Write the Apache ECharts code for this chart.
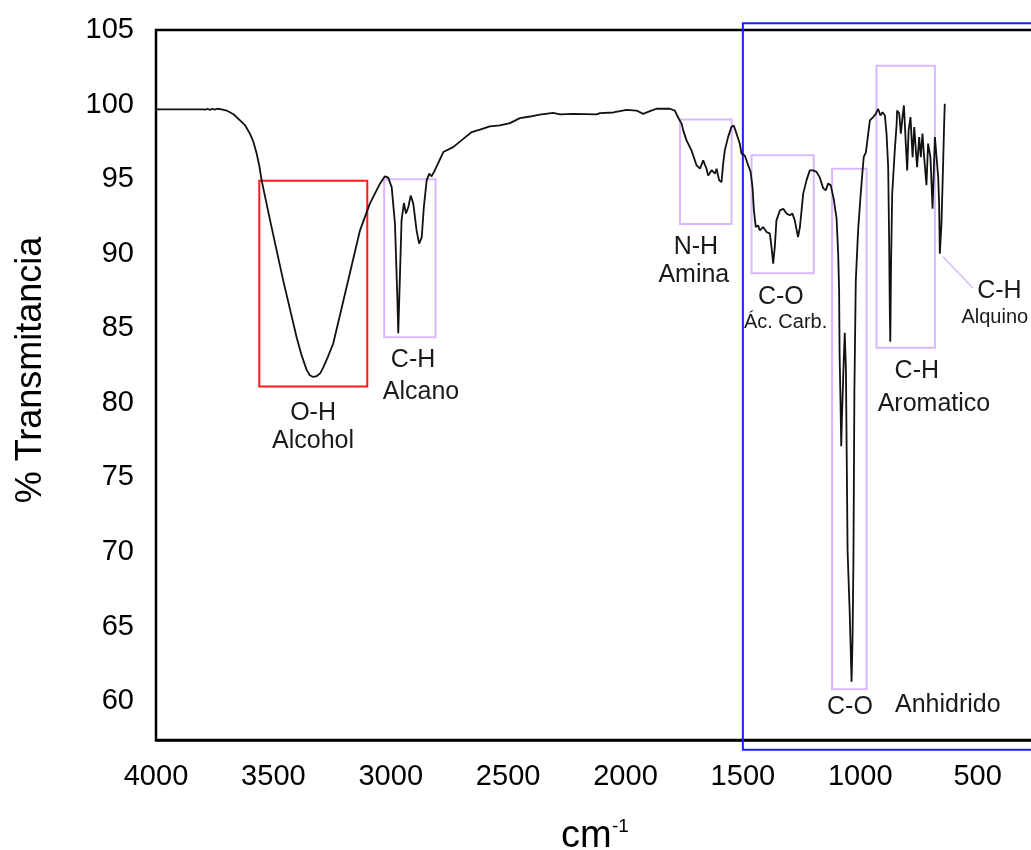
<!DOCTYPE html>
<html>
<head>
<meta charset="utf-8">
<script src="https://cdn.jsdelivr.net/npm/echarts@6/dist/echarts.min.js"></script>
<style>
html,body{margin:0;padding:0;background:#fff;}
#chart{width:1031px;height:850px;}
</style>
</head>
<body>
<div id="chart"></div>
<script>
// wavenumber (cm-1) and % transmittance
var wavenumber = [4000,3900,3800,3790,3780,3770,3760,3750,3740,3720,3699,3670,3642,3620,3600,3585,3571,3560,3550,3514,3458,3401,3380,3358,3345,3330,3315,3300,3287,3270,3245,3188,3131,3089,3046,3025,3011,2996,2982,2972,2968,2961,2954,2944,2935,2925,2915,2904,2890,2879,2868,2859,2847,2836,2826,2812,2776,2734,2691,2655,2620,2578,2535,2492,2450,2407,2365,2308,2279,2223,2123,2109,2052,1995,1953,1925,1917,1896,1868,1811,1790,1773,1761,1754,1740,1719,1697,1683,1669,1655,1648,1633,1619,1612,1601,1591,1584,1577,1563,1549,1539,1527,1513,1506,1492,1477,1467,1459,1453,1445,1435,1428,1414,1399,1385,1378,1371,1364,1357,1342,1328,1314,1300,1289,1279,1265,1257,1250,1243,1229,1215,1200,1186,1172,1158,1147,1137,1126,1118,1112,1108,1101,1094,1090,1088,1084,1081,1078,1070,1066,1061,1054,1045,1037,1033,1029,1025,1019,1009,999,990,985,976,966,959,945,934,924,914,905,895,888,881,877,874,872,869,864,853,845,843,834,827,820,814,806,800,794,786,777,770,763,758,749,742,735,729,718,711,701,692,682,675,668,664,661,654,647,643,640];
var transmittance = [99.68,99.68,99.68,99.66,99.72,99.64,99.72,99.66,99.72,99.68,99.6,99.35,98.94,98.6,98.05,97.5,96.7,95.9,94.92,92.24,88.2,84.4,83.2,82.2,81.85,81.74,81.8,82.0,82.4,83.0,83.98,87.77,91.57,93.36,94.7,95.19,95.1,94.47,92.0,87.1,84.67,88.44,92.24,93.4,92.7,93.13,93.9,93.36,91.57,90.68,91.1,93.13,94.92,95.37,95.19,95.6,96.82,97.15,97.7,98.16,98.32,98.54,98.6,98.76,99.09,99.2,99.32,99.45,99.34,99.38,99.34,99.43,99.47,99.65,99.6,99.38,99.32,99.56,99.72,99.72,99.6,99.05,98.72,98.27,97.6,96.93,95.92,95.7,96.26,95.7,95.25,95.6,95.37,95.7,94.92,94.8,96.04,96.93,97.82,98.49,98.6,98.05,97.38,96.71,96.59,95.92,95.48,94.47,92.91,91.79,91.9,91.57,91.79,91.46,91.35,90.45,89.34,90.45,92.24,92.91,93.02,92.69,92.58,92.69,92.24,91.12,91.79,92.91,94.03,94.92,95.59,95.59,95.48,95.1,94.4,94.25,94.7,94.6,94.47,93.6,93.1,92.4,90.0,87.5,83.3,80,77.1,79,83,84.7,82.2,70.1,66,61.3,64,69.5,80.7,88.2,91.6,93.8,95.6,96.5,96.8,98.05,98.94,99.16,99.38,99.72,99.27,99.49,99.27,98.05,95.8,91,86,84.1,89,94,96.9,98.7,99.6,99.4,98.05,99.16,99.94,97.38,95.59,98.27,99.16,96.48,98.49,98.6,95.81,97.82,96.48,98.05,96.71,94.59,97.38,96.48,93.02,97.82,97.82,95.14,93.36,90.0,92.02,96.04,98.49,100.05];

var xTicks = [4000,3500,3000,2500,2000,1500,1000,500];
var yTicks = [60,65,70,75,80,85,90,95,100,105];

// highlighted bands: [from wn, from %T, to wn, to %T]
var bandNames = ['O-H','C-H Alcano','N-H','C-O Ac','C-O Anh','C-H Arom','Huella'];
var bands = [
  [3560, 81.1, 3100, 94.9],
  [3028, 84.4, 2809, 95.0],
  [1768, 92.0, 1548, 99.0],
  [1463, 88.7, 1198, 96.6],
  [1120, 60.8, 973, 95.7],
  [931, 83.7, 682, 102.6],
  [1500, 56.75, -300, 105.45]
];
var bandColors = ['#ff1a1a','#d9b8ff','#d9b8ff','#d9b8ff','#d9b8ff','#d9b8ff','#1f1fff'];

// annotation texts anchored at [wn, %T]
var notes = ['O-H','Alcohol','C-H','Alcano','N-H','Amina','C-O','Ác. Carb.','C-O','Anhidrido','C-H','Aromatico','C-H','Alquino'];
var notePos = [[3331,79.3],[3331,77.45],[2905,82.9],[2871,80.75],[1700,90.45],[1709,88.55],[1338,87.1],[1318,85.4],[1044,59.6],[627,59.75],[759,82.1],[686,79.95],[407,87.5],[427,85.7]];
var noteSize = [25,25,25,25,25,25,25,20,25,25,25,25,25,20];
var leader = [[648, 89.8], [520, 87.7]];

var font = '"Liberation Sans", Arial, sans-serif';

var chart = echarts.init(document.getElementById('chart'));

var option = {
  animation: false,
  backgroundColor: '#fff',
  grid: {
    left: 156, top: 30, right: -64, bottom: 110,
    show: true, borderColor: '#000', borderWidth: 2.5,
    outerBoundsMode: 'none'
  },
  xAxis: {
    type: 'value', inverse: true, min: 0, max: 4000, interval: 500,
    axisLine: { show: true, lineStyle: { color: '#000', width: 2.5 } },
    axisTick: { show: false },
    splitLine: { show: false },
    axisLabel: {
      color: '#000', fontSize: 29, fontFamily: font, margin: 22,
      formatter: function (v) { return xTicks.indexOf(v) >= 0 ? String(v) : ''; }
    }
  },
  yAxis: {
    type: 'value', min: 57.4, max: 105, splitNumber: 10,
    axisLine: { show: true, lineStyle: { color: '#000', width: 2.5 } },
    axisTick: { show: false },
    splitLine: { show: false },
    axisLabel: {
      color: '#000', fontSize: 29, fontFamily: font, margin: 22,
      formatter: function (v) { return yTicks.indexOf(Math.round(v * 100) / 100) >= 0 ? String(v) : ''; }
    }
  },
  graphic: [
    { type: 'text', x: 31, y: 370, rotation: Math.PI / 2,
      style: { text: '% Transmitancia', font: '36px ' + font, fill: '#000', align: 'center', verticalAlign: 'middle' } },
    { type: 'text', x: 561, y: 837,
      style: { text: 'cm', font: '38px ' + font, fill: '#000', align: 'left', verticalAlign: 'middle' } },
    { type: 'text', x: 612, y: 827,
      style: { text: '-1', font: '19px ' + font, fill: '#000', align: 'left', verticalAlign: 'middle' } }
  ],
  series: [
    {
      type: 'line',
      data: wavenumber.map(function (w, i) { return [w, transmittance[i]]; }),
      showSymbol: false,
      symbol: 'none',
      lineStyle: { color: '#111', width: 1.8 },
      z: 3
    },
    {
      type: 'custom',
      data: bands,
      clip: false,
      z: 2,
      renderItem: function (params, api) {
        var p0 = api.coord([api.value(0), api.value(1)]);
        var p1 = api.coord([api.value(2), api.value(3)]);
        return {
          type: 'rect',
          shape: {
            x: Math.min(p0[0], p1[0]), y: Math.min(p0[1], p1[1]),
            width: Math.abs(p1[0] - p0[0]), height: Math.abs(p1[1] - p0[1])
          },
          style: { fill: 'none', stroke: bandColors[params.dataIndex], lineWidth: 2 }
        };
      }
    },
    {
      type: 'custom',
      data: notePos,
      clip: false,
      z: 4,
      renderItem: function (params, api) {
        var p = api.coord([api.value(0), api.value(1)]);
        var i = params.dataIndex;
        return {
          type: 'text', x: p[0], y: p[1],
          style: {
            text: notes[i], font: noteSize[i] + 'px ' + font, fill: '#1a1a1a',
            align: 'center', verticalAlign: 'middle'
          }
        };
      }
    },
    {
      type: 'line',
      data: leader,
      showSymbol: false,
      symbol: 'none',
      lineStyle: { color: '#d9b8ff', width: 1.5 },
      z: 2
    }
  ]
};
chart.setOption(option);
</script>
</body>
</html>
